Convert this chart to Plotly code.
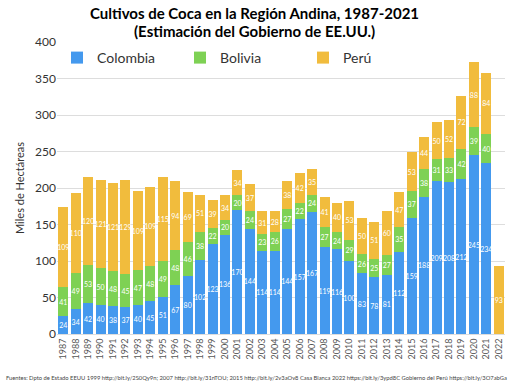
import plotly.graph_objects as go

years = [str(y) for y in range(1987, 2023)]
colombia = [24, 34, 42, 40, 38, 37, 40, 45, 51, 67, 80, 102, 123, 136, 170, 144, 114, 114,
            144, 157, 167, 119, 116, 100, 83, 78, 81, 112, 159, 188, 209, 208, 212, 245, 234, None]
bolivia = [41, 49, 53, 50, 48, 45, 47, 48, 49, 48, 46, 38, 22, 20, 20, 24, 23, 26,
           27, 22, 24, 27, 24, 29, 26, 25, 27, 35, 37, 38, 31, 33, 42, 39, 40, None]
peru = [109, 110, 120, 121, 121, 129, 109, 109, 115, 94, 69, 51, 39, 34, 34, 37, 31, 28,
        38, 42, 35, 41, 40, 53, 50, 51, 60, 47, 53, 44, 50, 52, 72, 88, 84, 93]

series = [("Colombia", colombia, "#4499ee"),
          ("Bolivia", bolivia, "#7ed154"),
          ("Perú", peru, "#f1bc3d")]

fig = go.Figure()
for name, vals, col in series:
    fig.add_trace(go.Bar(
        x=years, y=vals, name=name, marker_color=col, marker_line_width=0,
        text=[("" if v is None else str(v)) for v in vals],
        textposition="inside", insidetextanchor="middle", textangle=0,
        textfont=dict(color="white", size=7, family="Lato"),
    ))

fig.update_layout(
    barmode="stack", bargap=0.2,
    width=512, height=384,
    margin=dict(l=57, r=7, t=42, b=50),
    paper_bgcolor="white", plot_bgcolor="white",
    font=dict(family="Lato", color="#333"),
    uniformtext=dict(minsize=7, mode="show"),
    legend=dict(orientation="h", x=0.0, y=1.0, xanchor="left", yanchor="top",
                traceorder="normal",
                font=dict(size=14, color="#333"), bgcolor="rgba(0,0,0,0)",
                entrywidth=78, itemwidth=30),
    showlegend=True,
)
fig.add_annotation(text="<b>Cultivos de Coca en la Región Andina, 1987-2021</b>",
                   xref="paper", yref="paper", x=0.44, y=1.099, yanchor="middle",
                   showarrow=False, font=dict(size=15, color="black", family="Lato"))
fig.add_annotation(text="<b>(Estimación del Gobierno de EE.UU.)</b>",
                   xref="paper", yref="paper", x=0.44, y=1.036, yanchor="middle",
                   showarrow=False, font=dict(size=15, color="black", family="Lato"))
fig.update_yaxes(range=[0, 400], dtick=50, gridcolor="#dddddd", gridwidth=1,
                 zeroline=False, showline=False, ticks="", tickfont=dict(size=12, color="#333"),
                 automargin=False,
                 title=dict(text="Miles de Hectáreas", font=dict(size=11, color="#333"), standoff=8))
fig.update_xaxes(type="category", range=[-0.5, 35.5], automargin=False,
                 tickangle=-90, tickfont=dict(size=9, color="#555"), showline=True,
                 linecolor="#dddddd", ticks="")
fig.add_annotation(
    text="Fuentes: Dpto de Estado EEUU 1999 http://bit.ly/2S0Qy9n; 2007 http://bit.ly/31nTOU; 2015 http://bit.ly/2v3aOv8 Casa Blanca 2022 https://bit.ly/3ypd8C Gobierno del Perú https://bit.ly/3O7abGa",
    xref="paper", yref="paper", x=0.445, y=-0.148, xanchor="center", yanchor="middle",
    showarrow=False, font=dict(size=5.8, color="#444"))

fig.write_html("out.html", post_script="document.body.style.margin='0';",
               config={"displayModeBar": False})
